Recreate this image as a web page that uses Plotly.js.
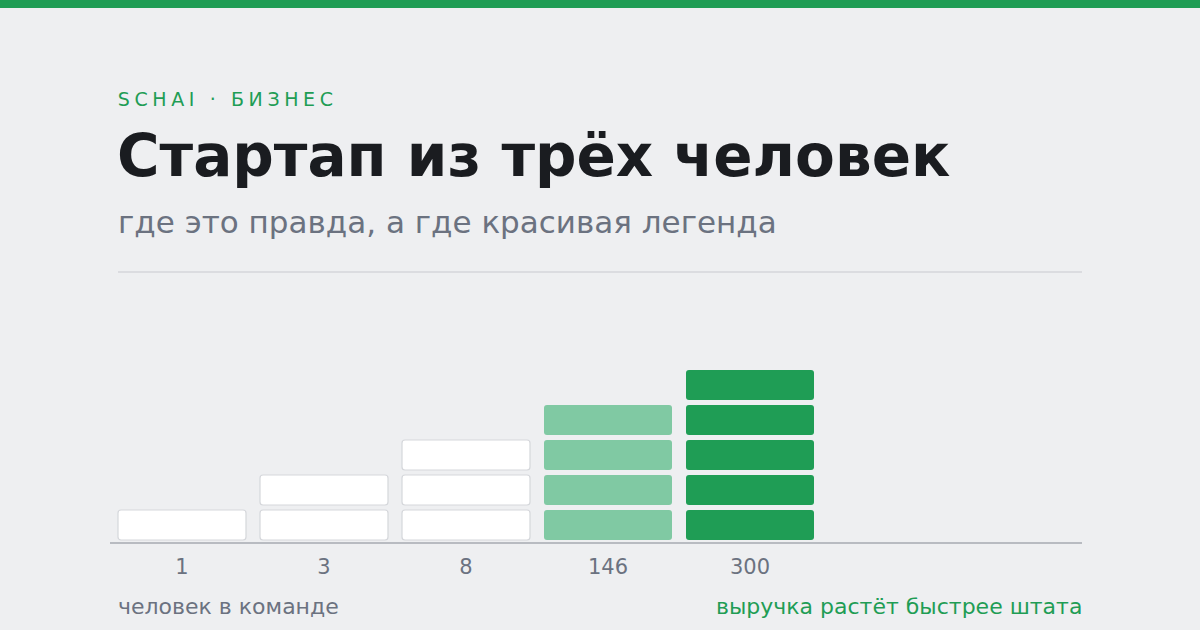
<!DOCTYPE html>
<html>
<head>
<meta charset="utf-8">
<script src="https://cdn.plot.ly/plotly-3.0.1.min.js"></script>
<style>
  html, body { margin: 0; padding: 0; background: #eeeff1; }
  #chart { width: 1200px; height: 630px; }
  .annotation[data-index="0"] text { letter-spacing: 4.6px; }
</style>
</head>
<body>
<div id="chart"></div>
<script>
// ---- data ----
const teamSizes = ['1', '3', '8', '146', '300'];      // people in team (x tick labels)
const blockCounts = [1, 2, 3, 4, 5];                   // stacked blocks per column
const tiers = ['legend', 'legend', 'legend', 'real', 'real-top']; // colouring group per column

const kicker = 'SCHAI · БИЗНЕС';
const titleText = 'Стартап из трёх человек';
const subtitleText = 'где это правда, а где красивая легенда';
const xNote = 'человек в команде';
const rightNote = 'выручка растёт быстрее штата';

// ---- styles ----
const GREEN = '#1f9d55';
const fillByTier = { 'legend': '#ffffff', 'real': '#80c9a3', 'real-top': '#1f9d55' };
const lineByTier = { 'legend': '#d5d7db', 'real': '#80c9a3', 'real-top': '#1f9d55' };
const lineWByTier = { 'legend': 1.2, 'real': 0, 'real-top': 0 };

// layout geometry (px)
const W = 1200, H = 630;
const mL = 110, mR = 118, mT = 300, mB = 88;
const plotW = W - mL - mR, plotH = H - mT - mB;
const px = x => (x - mL) / plotW;
const py = y => (H - mB - y) / plotH;

// one block = one unit on the y axis; pitch 35px, block 30px high
const unitPx = 35;
const blockH = 30 / unitPx;
const baseOff = 2 / unitPx;

const xs = [], bases = [], ys = [], fills = [], lines = [], lineWs = [];
teamSizes.forEach((t, i) => {
  for (let k = 0; k < blockCounts[i]; k++) {
    xs.push(t);
    bases.push(k + baseOff);
    ys.push(blockH);
    fills.push(fillByTier[tiers[i]]);
    lines.push(lineByTier[tiers[i]]);
    lineWs.push(lineWByTier[tiers[i]]);
  }
});

const pitch = 142;            // px per category
const catW = 128 / pitch;     // bar width in category units
const firstCenter = 182;

const trace = {
  type: 'bar',
  x: xs,
  y: ys,
  base: bases,
  width: xs.map(() => catW),
  marker: { color: fills, line: { color: lines, width: lineWs }, cornerradius: 3 },
  hoverinfo: 'skip',
  showlegend: false
};

const kickerSpacing = 4.6;
const FONT = 'DejaVu Sans, sans-serif';

const layout = {
  width: W, height: H,
  paper_bgcolor: '#eeeff1',
  plot_bgcolor: 'rgba(0,0,0,0)',
  margin: { l: mL, r: mR, t: mT, b: mB, pad: 0 },
  barmode: 'overlay',
  font: { family: FONT, color: '#6b7280' },
  xaxis: {
    type: 'category',
    categoryorder: 'array',
    categoryarray: teamSizes,
    range: [(mL - firstCenter) / pitch, (W - mR - firstCenter) / pitch],
    showline: true, linecolor: '#b8bbc1', linewidth: 2,
    showgrid: false, zeroline: false,
    ticks: '', ticklabelstandoff: 5,
    tickfont: { size: 21, color: '#6b7280', family: FONT },
    fixedrange: true
  },
  yaxis: {
    range: [0, plotH / unitPx],
    visible: false, showgrid: false, zeroline: false, fixedrange: true
  },
  shapes: [
    { type: 'rect', xref: 'paper', yref: 'paper', x0: px(0), x1: px(W), y0: py(0), y1: py(8),
      fillcolor: GREEN, line: { width: 0 }, layer: 'above' },
    { type: 'line', xref: 'paper', yref: 'paper', x0: px(118), x1: px(1082), y0: py(272), y1: py(272),
      line: { color: '#d4d6da', width: 1.5 } }
  ],
  annotations: [
    { text: kicker, xref: 'paper', yref: 'paper', x: px(116 + 7 * kickerSpacing), y: py(99.5), xanchor: 'left', yanchor: 'middle',
      showarrow: false, font: { size: 19, color: GREEN, family: FONT } },
    { text: '<b>' + titleText + '</b>', xref: 'paper', yref: 'paper', x: px(115), y: py(156), xanchor: 'left', yanchor: 'middle',
      showarrow: false, font: { size: 58, color: '#1a1c20', family: FONT } },
    { text: subtitleText, xref: 'paper', yref: 'paper', x: px(116), y: py(221.5), xanchor: 'left', yanchor: 'middle',
      showarrow: false, font: { size: 31, color: '#6b7280', family: FONT } },
    { text: xNote, xref: 'paper', yref: 'paper', x: px(116), y: py(606.5), xanchor: 'left', yanchor: 'middle',
      showarrow: false, font: { size: 22, color: '#6b7280', family: FONT } },
    { text: rightNote, xref: 'paper', yref: 'paper', x: px(1084), y: py(606.5), xanchor: 'right', yanchor: 'middle',
      showarrow: false, font: { size: 22, color: GREEN, family: FONT } }
  ]
};

Plotly.newPlot('chart', [trace], layout, { staticPlot: true, displayModeBar: false });
</script>
</body>
</html>
